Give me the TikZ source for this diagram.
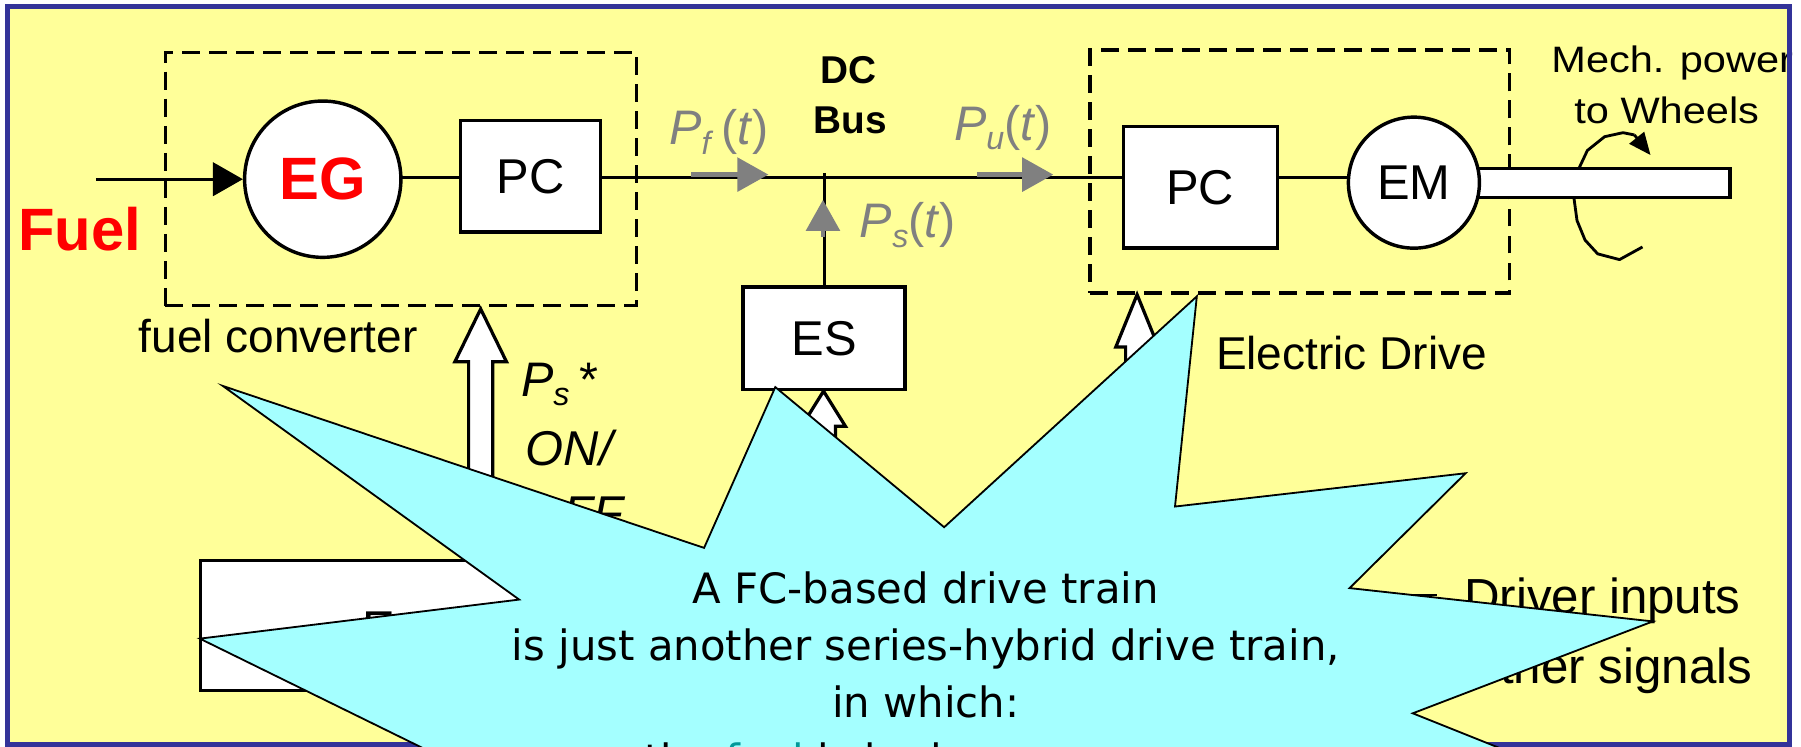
\documentclass[tikz,border=0pt]{standalone}
\usepackage{fontspec}
\usepackage{graphicx}
\setmainfont{Liberation Sans}
\newfontfamily\burstfont{DejaVu Sans}
\usetikzlibrary{arrows.meta}
\definecolor{framebl}{HTML}{333399}
\definecolor{slideyel}{HTML}{FFFF99}
\definecolor{burstcy}{HTML}{A4FFFF}
\definecolor{lblgray}{HTML}{808080}
\definecolor{fuelteal}{HTML}{009999}
\newcommand\fsz[1]{\fontsize{#1pt}{#1pt}\selectfont}
\newcommand\blockup[6]{%
  \filldraw[barrow] ({#1-#6},#4) -- ({#1-#6},#3) -- ({#1-#5},#3) -- (#1,#2) -- ({#1+#5},#3) -- ({#1+#6},#3) -- ({#1+#6},#4);}
\pgfdeclarelayer{back}
\pgfdeclarelayer{bg}
\pgfsetlayers{back,bg,main}
\begin{document}
\begin{tikzpicture}[x=0.01cm,y=-0.01cm,
  pbox/.style={draw=black, line width=0.85pt, fill=white, inner sep=0pt, rectangle},
  pcirc/.style={draw=black, line width=0.85pt, fill=white, inner sep=0pt, circle},
  dbox/.style={draw=black, line width=0.8pt, dash pattern=on 1.55mm off 0.8mm, inner sep=0pt, rectangle},
  conn/.style={draw=black, line width=0.7pt},
  grayarr/.style={draw=lblgray, line width=1.1pt, -{Triangle[length=7.7pt,width=8.3pt]}},
  barrow/.style={draw=black, line width=0.8pt, fill=white, line join=miter},
  burst/.style={draw=black, line width=0.45pt, fill=burstcy, line join=miter},
  lbl/.style={inner sep=0pt, anchor=base west},
  lblc/.style={inner sep=0pt, anchor=base},
]
\useasboundingbox (0,0) rectangle (1568,650);
\clip (0,0) rectangle (1568,650);
\begin{pgfonlayer}{back}
  \fill[white] (0,0) rectangle (1568,650);
  \fill[slideyel] (6.5,5.75) rectangle (1558,648.5);
\end{pgfonlayer}

% dashed groups
\node[dbox, minimum width=41mm, minimum height=22.05mm] (FC) at (349,155.75) {};
\node[dbox, minimum width=36.5mm, minimum height=21.15mm] (ED) at (1131.5,149.25) {};

% shaft (behind EM)
\node[pbox, minimum width=23.6mm, minimum height=2.55mm] (shaft) at (1388,159.25) {};

% blocks
\node[pcirc, minimum size=13.6mm] (EG) at (281,156) {\fsz{14.8}\bfseries\color{red}EG};
\node[pbox, minimum width=12.2mm, minimum height=9.7mm] (PCL) at (462,153.5) {\fsz{12.1}PC};
\node[pbox, minimum width=13.4mm, minimum height=10.6mm] (PCR) at (1045,163) {\fsz{12.1}PC};
\node[pcirc, minimum size=11.4mm] (EM) at (1231,159) {\fsz{12.1}EM};
\node[pbox, minimum width=14.1mm, minimum height=8.9mm] (ES) at (717.5,294.5) {\fsz{12.1}ES};
\node[pbox, minimum width=97.5mm, minimum height=11.3mm] (EMS) at (662.5,544.5) {};
\node[lbl] (tE) at (315,562) {\fsz{12.1}E};

% connectors
\coordinate (busL) at (0,154.5);
\coordinate (bustop) at (0,151);
\coordinate (fuelin) at (83.5,156);
\begin{pgfonlayer}{bg}
  \draw[conn] (EG.center |- busL) -- (PCL.center |- busL);
  \draw[conn] (PCL.center |- busL) -- (PCR.center |- busL);
  \draw[conn] (PCR.center |- busL) -- (EM.center |- busL);
  \draw[conn] (ES.center) -- (ES.center |- bustop);
  \draw[line width=0.7pt, line join=round]
    (1430,215) -- (1410,226) -- (1391,221) -- (1380,209) -- (1373,192) -- (1370,170) -- (1374,148) -- (1382,131) -- (1397,119) -- (1413,115.5) -- (1423,117.5);
  \draw[line width=0.7pt, -{Triangle[length=5.5pt,width=4.6pt]}] (1423,117.5) -- (1437,135);
\end{pgfonlayer}
\draw[conn, -{Triangle[length=7.4pt,width=8.25pt]}] (fuelin) -- (EG.west);

% gray power-flow arrows
\coordinate (pfa) at (602,152); \coordinate (pfb) at (669,152);
\coordinate (pua) at (851,152); \coordinate (pub) at (917,152);
\coordinate (psa) at (716.5,206); \coordinate (psb) at (716.5,174);
\draw[grayarr] (pfa) -- (pfb);
\draw[grayarr] (pua) -- (pub);
\draw[grayarr] (psa) -- (psb);

% labels
\node[lbl] (tFuel) at (15,218) {\fsz{14.8}\bfseries\color{red}Fuel};
\node[lblc] (tDC) at (739,72.5) {\fsz{9.6}\bfseries DC};
\node[lblc] (tBus) at (740.5,116) {\fsz{9.6}\bfseries Bus};
\node[lbl, text=lblgray] (tPf) at (582,126) {\fsz{12}\textit{P}\raisebox{-2.4pt}{\fsz{8}\textit{f}}\hspace{2pt}(\textit{t})};
\node[lbl, text=lblgray] (tPu) at (830,122) {\fsz{12}\textit{P}\raisebox{-2.2pt}{\fsz{8}\textit{u}}(\textit{t})};
\node[lbl, text=lblgray] (tPs) at (748,207) {\fsz{12}\textit{P}\raisebox{-2.4pt}{\fsz{8}\textit{s}}(\textit{t})};
\node[lbl] (tfc) at (120,306.5) {\fsz{11.4}fuel converter};
\node[lbl] (ted) at (1058,322) {\fsz{11.4}Electric Drive};
\node[lbl] (tmech1) at (1350,63) {\scalebox{1.13}[1]{\fsz{9.1}Mech. power}};
\node[lbl] (tmech2) at (1370,107.5) {\scalebox{1.13}[1]{\fsz{9.1}to Wheels}};
\node[lbl] (tPstar) at (453,345) {\fsz{12}\itshape P\raisebox{-2.4pt}{\fsz{8}s}\,*};
\node[lbl] (tON) at (457,405) {\fsz{12.1}\itshape ON/};
\node[lbl] (tOFF) at (457,462) {\fsz{12.1}\itshape OFF};
\node[lbl] (tdrv) at (1274,534) {\fsz{12.2}Driver inputs};
\node[lbl] (toth) at (1272,595) {\fsz{12.2}Other signals};
\coordinate (drvend) at (1251,518);
\draw[conn] (EMS.east |- drvend) -- (drvend);

% hollow command arrows
\blockup{418.5}{269}{315}{488}{22.5}{10.5}
\blockup{717}{340.5}{371}{488}{19}{10.5}
\blockup{990}{256.5}{302}{488}{18.5}{10}

% slide frame
\draw[framebl, line width=1.22pt] (6.5,5.75) rectangle (1558,648.5);

% starburst callout
\filldraw[burst] (500,716) -- (174,556) -- (452,522) -- (194,336) -- (613,477) -- (675,337) -- (822,459) -- (1042,258) -- (1023,441) -- (1276,412) -- (1175,512) -- (1439,541) -- (1230,621) -- (1380,681) -- (900,760) -- cycle;
\node[lblc] (b1) at (806,525) {\burstfont\fsz{10.35}A FC-based drive train};
\node[lblc] (b2) at (806,575) {\burstfont\fsz{10.35}is just another series-hybrid drive train,};
\node[lblc] (b3) at (806,625) {\burstfont\fsz{10.35}in which:};
\node[lbl] (b4) at (560,674) {\burstfont\fsz{10.35}the \textcolor{fuelteal}{fuel} is hydrogen};
\end{tikzpicture}
\end{document}
